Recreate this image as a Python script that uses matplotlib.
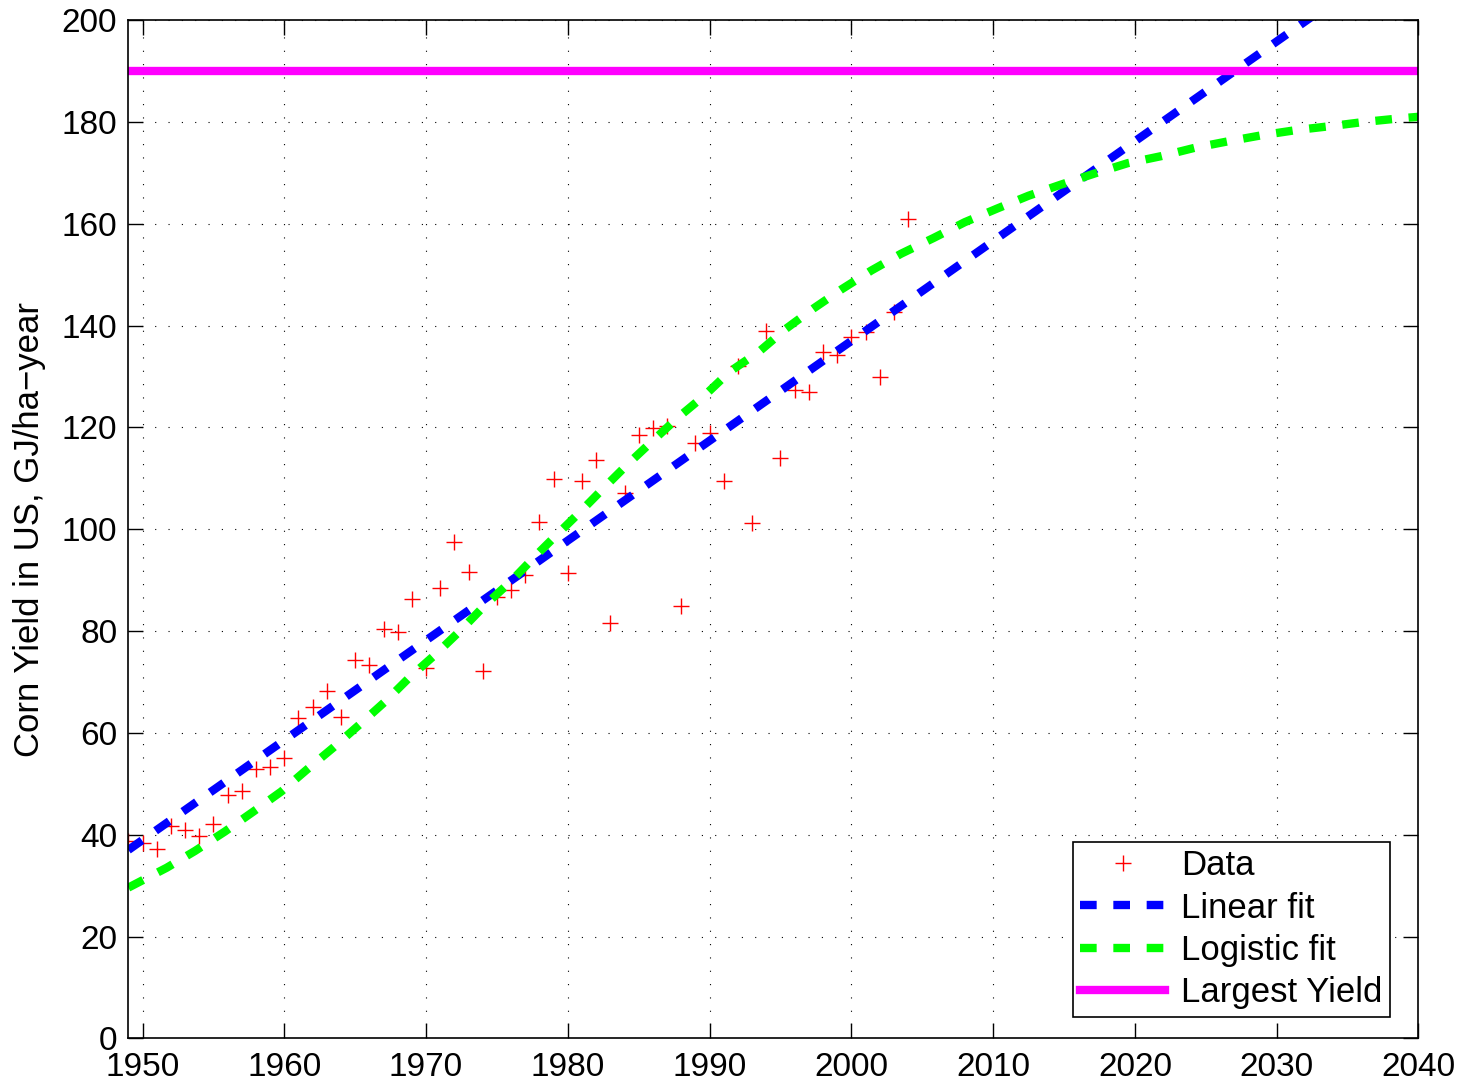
"""Corn yield in the US with linear and logistic fits (MATLAB-style figure)."""

import matplotlib.pyplot as plt

# observed yields, GJ/ha-year
data_years = list(range(1949, 2005))
data_yield = [
    38.7, 38.4, 37.2, 41.7, 41.0, 39.7, 42.1, 47.7, 48.5, 53.0,
    53.2, 55.0, 62.9, 65.0, 68.2, 63.1, 74.4, 73.4, 80.4, 79.9,
    86.3, 72.8, 88.5, 97.4, 91.6, 72.1, 86.6, 88.1, 91.1, 101.4,
    109.9, 91.4, 109.4, 113.6, 81.5, 107.1, 118.5, 119.9, 120.3, 85.0,
    116.9, 118.9, 109.5, 132.0, 101.3, 139.0, 114.0, 127.4, 127.0, 134.9,
    134.2, 137.8, 138.8, 129.9, 142.7, 160.9,
]

# linear fit, read at both ends of the axis
linear_years = [1949, 2040]
linear_yield = [37.0, 215.4]

# logistic fit
logistic_years = [
    1949.0, 1951.7, 1953.7, 1955.8, 1957.8, 1959.8, 1961.6, 1963.5, 1965.3,
    1967.1, 1968.8, 1970.7, 1972.5, 1974.2, 1976.0, 1977.7, 1979.4, 1980.8,
    1982.5, 1984.2, 1986.0, 1987.8, 1989.7, 1991.4, 1993.5, 1995.4, 1997.3,
    1999.3, 2001.4, 2003.5, 2005.8, 2008.0, 2010.3, 2012.5, 2014.8, 2017.2,
    2019.5, 2021.9, 2024.2, 2026.6, 2029.0, 2031.4, 2033.9, 2036.2, 2038.7,
    2040.0,
]
logistic_yield = [
    29.6, 33.5, 36.8, 40.6, 44.5, 48.5, 52.8, 57.2, 61.6,
    66.1, 70.8, 75.5, 80.3, 85.2, 89.8, 94.7, 99.4, 103.2,
    108.0, 112.7, 117.4, 122.0, 126.4, 130.9, 134.9, 139.4, 143.3,
    147.1, 150.8, 154.1, 157.2, 160.3, 163.0, 165.5, 167.7, 169.9,
    171.9, 173.3, 174.9, 176.2, 177.4, 178.4, 179.2, 180.0, 180.7,
    181.0,
]

largest_yield = 190.0

x_ticks = list(range(1950, 2041, 10))
y_ticks = list(range(0, 201, 20))

plt.rcParams["font.family"] = ["Liberation Sans", "DejaVu Sans"]
plt.rcParams["font.size"] = 24


def main():
    fig = plt.figure(figsize=(14.65, 10.85), dpi=100)
    ax = fig.add_axes([0.0876, 0.0430, 0.8806, 0.9385])

    ax.plot(data_years, data_yield, linestyle="none", marker="+",
            color="red", markersize=12, markeredgewidth=1.0, label="Data")
    ax.plot(linear_years, linear_yield, color="blue", linewidth=6,
            dashes=(2, 2), label="Linear fit")
    ax.plot(logistic_years, logistic_yield, color="#00ff00", linewidth=6,
            dashes=(2, 2), label="Logistic fit")
    ax.axhline(largest_yield, color="magenta", linewidth=6, label="Largest Yield")

    ax.set_xlim(1949, 2040)
    ax.set_ylim(0, 200)
    ax.set_xticks(x_ticks)
    ax.set_yticks(y_ticks)
    ax.tick_params(direction="in", length=11, width=1, top=True, right=True,
                   labelsize=24, pad=8)
    ax.tick_params(axis="x", pad=10)
    for spine in ax.spines.values():
        spine.set_linewidth(1.2)

    ax.grid(True, color="k", linewidth=0.8, linestyle=(0, (1, 11)))
    ax.set_ylabel("Corn Yield in US, GJ/ha\u2212year", fontsize=25, labelpad=11)

    leg = ax.legend(loc="lower right", bbox_to_anchor=(0.978, 0.021),
                    borderaxespad=0, fancybox=False, framealpha=1,
                    edgecolor="k", fontsize=25, handlelength=2.45,
                    handletextpad=0.45, labelspacing=0.27, borderpad=0.22)
    leg.get_frame().set_linewidth(1.2)

    fig.savefig("out.png", dpi=100)


if __name__ == "__main__":
    main()
